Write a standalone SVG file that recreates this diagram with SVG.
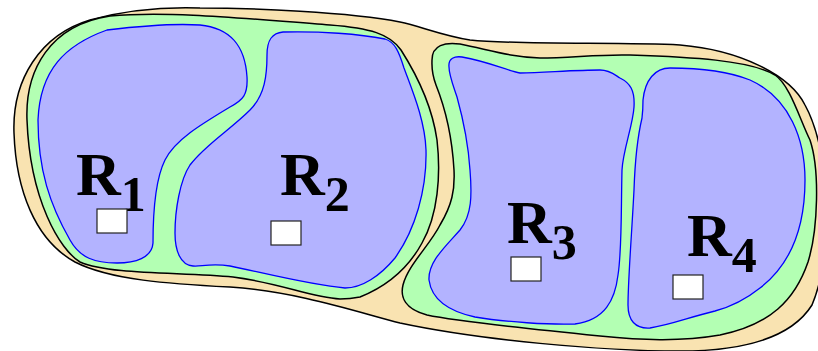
<svg xmlns="http://www.w3.org/2000/svg" width="818" height="351" viewBox="0 0 818 351">
<style>
.outer{fill:#F9E3B1;stroke:#000;stroke-width:1.5}
.green{fill:#B3FFB3;stroke:#000;stroke-width:1.5}
.room{fill:#B3B3FF;stroke:#0000FF;stroke-width:1.3}
.box{fill:#fff;stroke:#222;stroke-width:1.2}
.lbl{font-family:"Liberation Serif","Times New Roman",serif;font-weight:bold;font-size:62px;fill:#000}
.sub{font-size:50px}
</style>
<g id="outer">
<path class="outer" d="M14,133 C12,80 40,35 90,20 C130,9 170,7 200,8 C250,8 350,12 400,22 C420,26 440,35 470,40 C520,45 620,42 680,45 C740,50 790,75 805,105 C830,150 835,250 812,305 C790,340 740,351 680,351 C600,351 480,340 400,323 C360,313 300,292 230,287 C170,284 110,280 75,262 C35,240 16,190 14,133 Z"/>
</g>
<g id="zone-left">
<path class="green" d="M27,120 C25,70 50,25 110,16 C170,10 260,20 330,25 C370,28 390,34 401,50 C415,72 432,105 437,140 C441,175 438,215 422,243 C410,265 390,285 360,297 C350,299 345,299 340,299 C310,297 280,283 233,277 C180,272 110,275 80,262 C60,250 30,200 27,120 Z"/>
</g>
<g id="zone-right">
<path class="green" d="M432,60 C432,45 445,42 460,44 C490,50 510,57 540,58 C570,58 600,54 630,55 C690,57 750,60 775,75 C790,85 800,120 810,140 C820,170 818,230 808,262 C795,300 770,325 720,335 C680,342 640,340 600,336 C540,330 460,322 427,315 C405,309 400,297 403,285 C408,265 430,245 440,225 C452,205 455,190 454,170 C452,135 444,105 436,85 C431,72 432,65 432,60 Z"/>
</g>
<g id="R1">
<path class="room" d="M107,30 C140,26 170,23 200,25 C230,28 245,45 247,77 C248,95 243,100 230,107 C200,125 175,140 165,160 C155,180 153,210 153,243 C152,258 135,263 117,263 C95,263 80,258 70,240 C50,205 38,170 38,120 C40,70 65,45 107,30 Z"/>
<text class="lbl" x="76" y="195">R<tspan class="sub" y="211">1</tspan></text>
<rect class="box" x="97" y="209" width="30" height="24"/>
</g>
<g id="R2">
<path class="room" d="M283,32 C320,31 360,34 385,39 C395,42 399,52 404,68 C412,90 425,120 426,150 C427,190 415,230 395,258 C380,276 362,288 345,288 C310,285 260,272 230,266 C210,263 200,267 193,266 C180,265 175,250 175,233 C175,210 180,180 190,165 C205,145 230,130 250,110 C265,95 267,75 267,55 C267,40 272,33 283,32 Z"/>
<text class="lbl" x="280" y="195">R<tspan class="sub" y="211">2</tspan></text>
<rect class="box" x="271" y="221" width="30" height="24"/>
</g>
<g id="R3">
<path class="room" d="M449,67 C448,58 455,56 462,57 C490,62 505,70 520,73 C550,72 580,70 600,70 C610,70 615,75 620,78 C630,83 635,90 634,107 C633,125 623,150 622,170 C621,210 622,250 618,275 C615,300 605,320 575,324 C550,325 505,322 475,317 C452,312 432,302 429,280 C428,262 445,247 460,230 C472,215 472,195 470,170 C468,140 462,115 457,97 C453,85 449,75 449,67 Z"/>
<text class="lbl" x="507" y="243">R<tspan class="sub" y="259">3</tspan></text>
<rect class="box" x="511" y="257" width="30" height="24"/>
</g>
<g id="R4">
<path class="room" d="M643,100 C645,80 655,68 670,68 C700,68 730,72 750,80 C790,98 805,140 805,180 C805,230 790,265 760,288 C745,300 730,307 715,311 C690,317 670,325 650,328 C635,329 628,320 628,305 C628,280 632,230 634,190 C635,160 638,135 642,118 C643,110 643,105 643,100 Z"/>
<text class="lbl" x="687" y="256">R<tspan class="sub" y="272">4</tspan></text>
<rect class="box" x="673" y="275" width="30" height="24"/>
</g>
<g id="connectors"></g>
</svg>
